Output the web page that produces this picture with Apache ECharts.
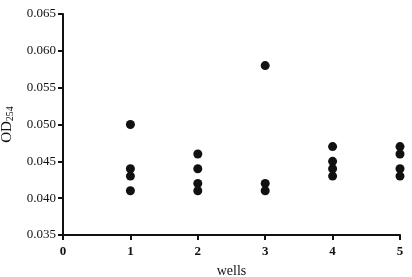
<!DOCTYPE html>
<html><head><meta charset="utf-8">
<script src="https://cdn.jsdelivr.net/npm/echarts@6/dist/echarts.min.js"></script>
<style>html,body{margin:0;padding:0;background:#fff}#c{width:412px;height:277px}</style>
</head><body><div id="c"></div>
<script>
const wells = [1, 1, 1, 1, 2, 2, 2, 2, 3, 3, 3, 4, 4, 4, 4, 5, 5, 5, 5];
const od254 = [0.050, 0.044, 0.043, 0.041, 0.046, 0.044, 0.042, 0.041, 0.058, 0.042, 0.041, 0.047, 0.045, 0.044, 0.043, 0.047, 0.046, 0.044, 0.043];
const data = wells.map((w, i) => [w, od254[i]]);
const chart = echarts.init(document.getElementById('c'));
const font = 'Liberation Serif';
chart.setOption({
  animation: false,
  grid: {left: 63, right: 12, top: 14, bottom: 42, containLabel: false, outerBoundsMode: 'none'},
  xAxis: {
    type: 'value', min: 0, max: 5, interval: 1,
    name: 'wells', nameLocation: 'middle', nameGap: 29,
    nameTextStyle: {fontFamily: font, fontSize: 14, color: '#111'},
    axisLine: {lineStyle: {color: '#111', width: 2}},
    axisTick: {show: true, length: 5, lineStyle: {color: '#111', width: 2}},
    axisLabel: {fontFamily: font, fontSize: 13, fontWeight: 'bold', color: '#111', margin: 10},
    splitLine: {show: false}
  },
  yAxis: {
    type: 'value', min: 0.035, max: 0.065, interval: 0.005,
    name: 'OD{sub|254}', nameLocation: 'middle', nameGap: 43,
    nameTextStyle: {fontFamily: font, fontSize: 15, color: '#111',
      rich: {sub: {fontFamily: font, fontSize: 10, color: '#111', verticalAlign: 'bottom', padding: [7, 0, 0, 0]}}},
    axisLine: {show: true, lineStyle: {color: '#111', width: 2}},
    axisTick: {show: true, length: 5, lineStyle: {color: '#111', width: 2}},
    axisLabel: {fontFamily: font, fontSize: 13, color: '#111', margin: 7,
      formatter: v => v.toFixed(3)},
    splitLine: {show: false}
  },
  series: [{
    type: 'scatter', data: data, symbolSize: 9,
    itemStyle: {color: '#111', opacity: 1}
  }]
});
</script></body></html>
